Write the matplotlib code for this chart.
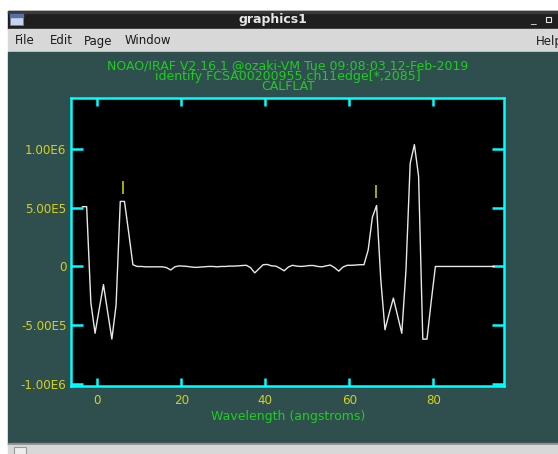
import numpy as np
import matplotlib
matplotlib.use("Agg")
import matplotlib.pyplot as plt
from matplotlib.patches import Rectangle

# Spectrum trace sampled on a 1 angstrom grid
wave = np.arange(-3.5, 95.0, 1.0)
flux = [
    5.1e5, 5.1e5, -3.1e5, -5.7e5, -3.6e5, -1.55e5, -3.9e5, -6.2e5, -3.3e5, 5.55e5,
    5.55e5, 2.9e5, 1.5e4, 0, 0, -3e3, -3e3, -3e3, -3e3, -3e3,
    -1e4, -3e4, -3e3, 5e3, 3e3, 0, -5e3, -8e3, -5e3, -3e3,
    0, 0, -3e3, 0, 0, 3e3, 3e3, 5e3, 8e3, 1e4,
    -1e4, -5.5e4, -2e4, 1.5e4, 1.7e4, 5e3, 3e3, -1.5e4, -3.7e4, -5e3,
    1e4, 3e3, 0, 3e3, 8e3, 8e3, 0, -3e3, 5e3, 1.2e4,
    -1e4, -4e4, -5e3, 1e4, 1e4, 1.2e4, 1.5e4, 1.5e4, 1.4e5, 4.2e5,
    5.2e5, -1.1e5, -5.4e5, -4e5, -2.7e5, -4.2e5, -5.7e5, -3e4, 8.8e5, 1.04e6,
    7.7e5, -6.2e5, -6.2e5, -3e5, 0, 0, 0, 0, 0, 0,
    0, 0, 0, 0, 0, 0, 0, 0, 0,
]

# identified features (position, base of marker)
feat_wave = [6.1, 66.4]
feat_base = [6.2e5, 5.85e5]

xticks = [0, 20, 40, 60, 80]
yticks = [1.0e6, 5.0e5, 0, -5.0e5, -1.0e6]
ytick_labels = ["1.00E6", "5.00E5", "0", "-5.00E5", "-1.00E6"]

title_lines = [
    "NOAO/IRAF V2.16.1 @ozaki-VM Tue 09:08:03 12-Feb-2019",
    "identify FCSA00200955.ch11edge[*,2085]",
    "CALFLAT",
]

W, H = 558, 454
teal = "#2f4f4f"
cyan = "#00ffff"
green = "#1ccf1c"
yellow = "#d2d21e"

fig = plt.figure(figsize=(W / 100, H / 100), dpi=100, facecolor="white")

# window frame drawn in pixel coordinates
bg = fig.add_axes([0, 0, 1, 1])
bg.set_xlim(0, W)
bg.set_ylim(H, 0)
bg.axis("off")
bg.add_patch(Rectangle((8, 11), W, 18, color="#1f1f1f"))
bg.add_patch(Rectangle((8, 11), W, 2, color="#3a3a3a"))
bg.add_patch(Rectangle((8, 29), W, 23, color="#d8d8d8"))
bg.add_patch(Rectangle((8, 52), W, 392, color=teal))
bg.add_patch(Rectangle((8, 443), W, 2, color="#8c8c8c"))
bg.add_patch(Rectangle((8, 445), W, 10, color="#d8d8d8"))
bg.add_patch(Rectangle((14, 447), 12, 8, facecolor="#eeeeee", edgecolor="#9a9a9a", lw=0.8))
bg.add_patch(Rectangle((10, 14), 13, 11, facecolor="#c8d4ec", edgecolor="#7080a0", lw=0.6))
bg.add_patch(Rectangle((10, 14), 13, 3, color="#5870a8"))
bg.text(273, 20, "graphics1", color="#e6e6e6", fontsize=9, fontweight="bold",
        ha="center", va="center")
bg.text(533, 20, "_", color="#e6e6e6", fontsize=8, ha="center", va="center")
bg.add_patch(Rectangle((546, 17), 5, 5, facecolor="none", edgecolor="#e6e6e6", lw=0.8))
menu = [("File", 15), ("Edit", 50), ("Page", 84), ("Window", 125), ("Help", 536)]
for name, xpos in menu:
    bg.text(xpos, 41, name, color="#1a1a1a", fontsize=8.5, ha="left", va="center")

# IRAF header block, one text with tight line spacing
bg.text(288, 76.2, "\n".join(title_lines), color=green, fontsize=9.0,
        ha="center", va="center", multialignment="center", linespacing=0.72)
bg.text(288, 416.7, "Wavelength (angstroms)", color=green, fontsize=9.0,
        ha="center", va="center")

# plot area
ax = fig.add_axes([70.7 / W, 1 - 386 / H, (504.3 - 70.7) / W, (386 - 97.7) / H])
ax.set_facecolor("black")
ax.plot(wave, flux, color="#e8e8e8", lw=1.0)
ax.vlines(feat_wave, feat_base, np.array(feat_base) + 1.1e5, color="#c8c800", lw=1.2)

ax.set_xlim(-6.3, 96.9)
ax.set_ylim(-1.02e6, 1.44e6)
ax.set_xticks(xticks)
ax.set_yticks(yticks)
ax.set_yticklabels(ytick_labels)
for side in ax.spines.values():
    side.set_color(cyan)
    side.set_linewidth(1.8)
ax.tick_params(axis="both", direction="in", color=cyan, width=1.8,
               labelcolor=yellow, labelsize=8.6, top=True, right=True)
ax.tick_params(axis="x", length=6, pad=6)
ax.tick_params(axis="y", length=8.4, pad=3)

fig.savefig("out.png", dpi=100, facecolor="white")
